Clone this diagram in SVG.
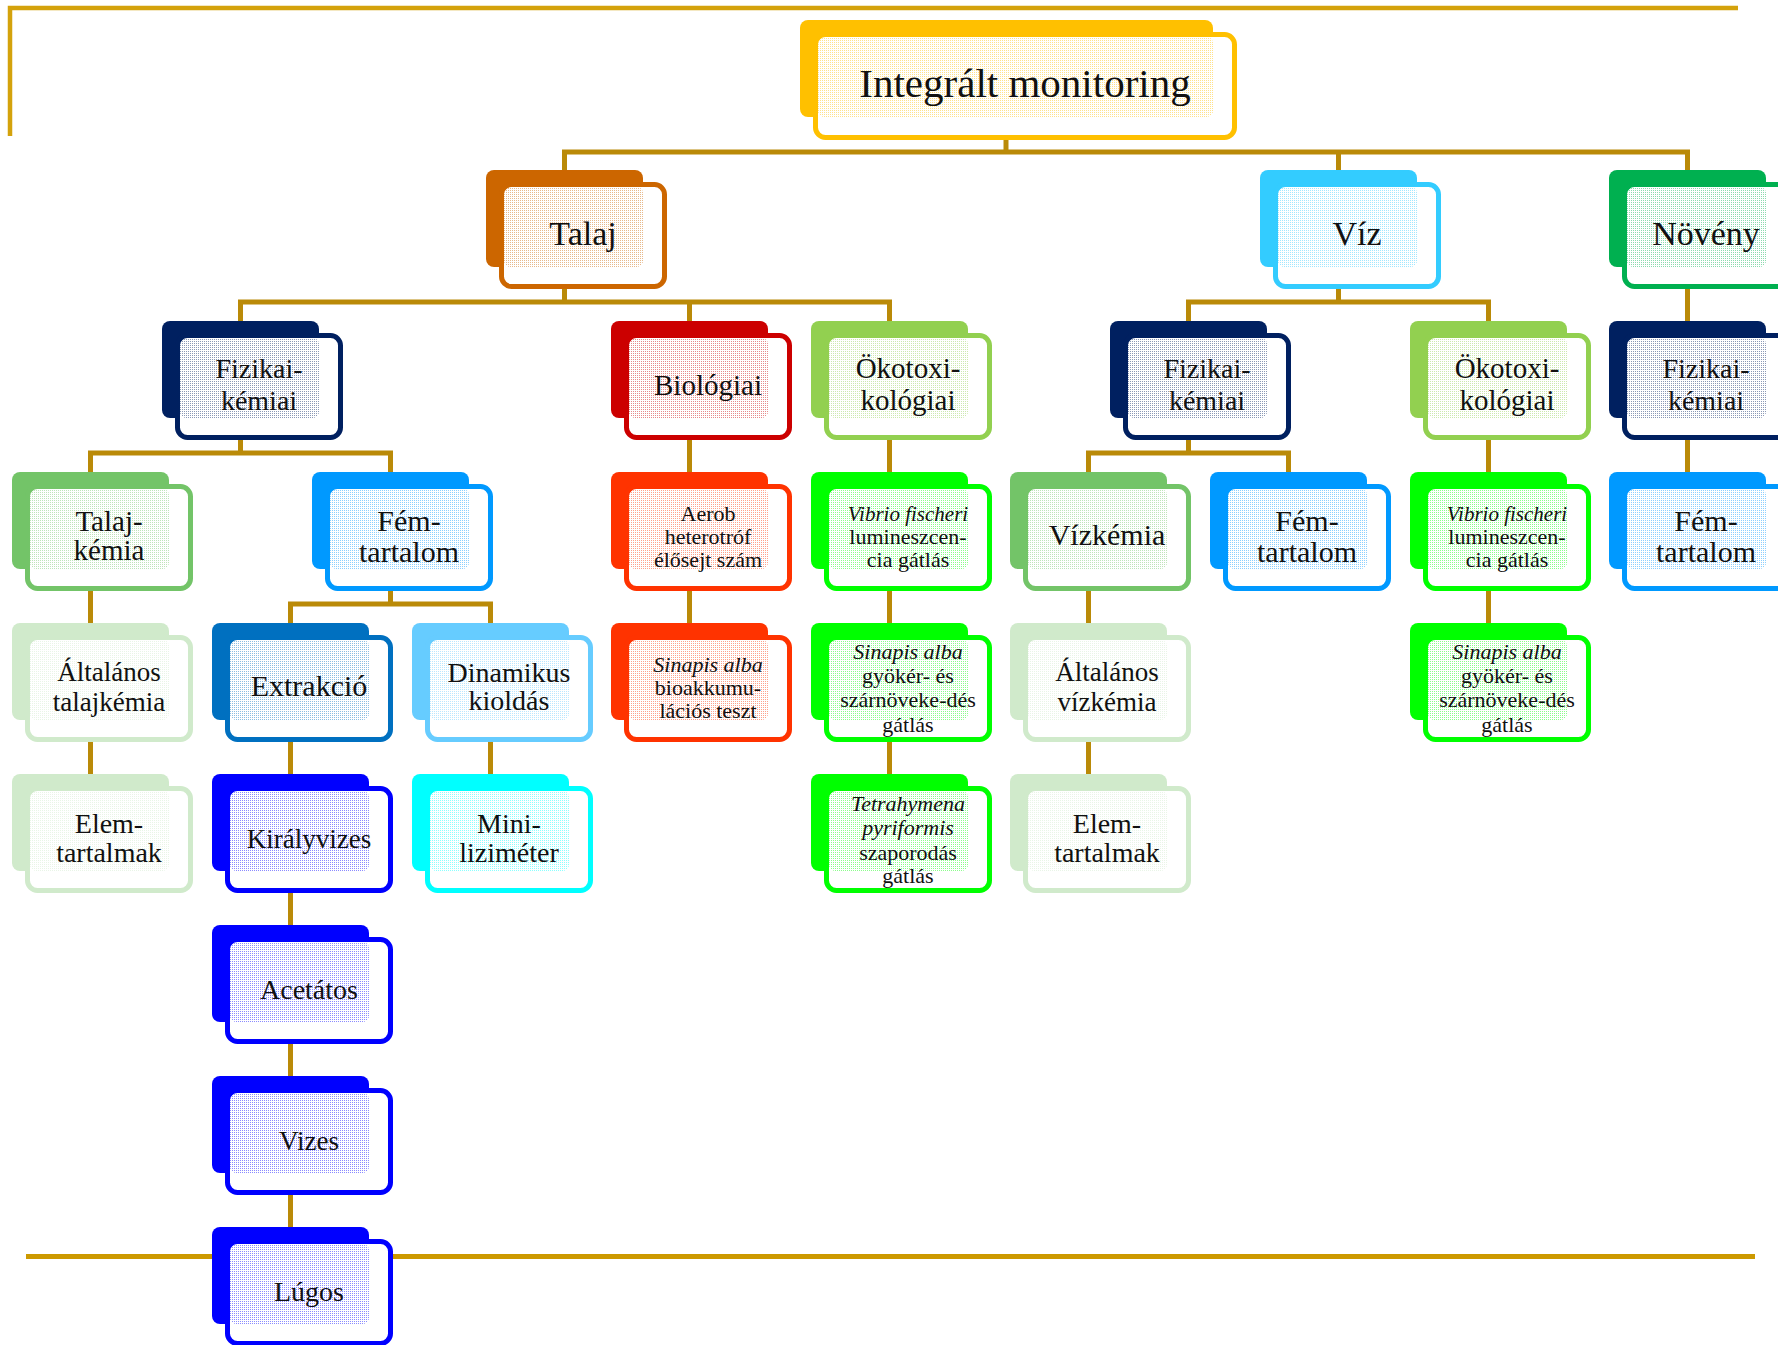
<svg xmlns="http://www.w3.org/2000/svg" width="1778" height="1345" viewBox="0 0 1778 1345">
<defs>
<pattern id="dp" width="2" height="2" patternUnits="userSpaceOnUse"><rect width="1" height="1" fill="#fff"/></pattern>
<mask id="dm" maskUnits="userSpaceOnUse" x="0" y="0" width="1778" height="1345" maskContentUnits="userSpaceOnUse"><rect x="-50" y="-50" width="1900" height="1450" fill="url(#dp)"/></mask>
</defs>
<style>
.bk{fill:var(--c)}
.fr{fill:#fff;stroke:var(--c);stroke-width:5}
.dt{fill:var(--c);opacity:0.45}
text{font-family:"Liberation Serif","Times New Roman",serif;fill:#111;text-anchor:middle}
.it{font-style:italic}
.c{fill:none;stroke:#BA8A08;stroke-width:5}
.fl{fill:none;stroke:#D4A20C;stroke-width:4.5}
.fl2{fill:none;stroke:#CC9900;stroke-width:5}
</style>
<rect width="1778" height="1345" fill="#fff"/>
<g id="frame">
<path class="fl" d="M10,136 V8 H1738"/>
<path class="fl2" d="M26,1256.5 H1755"/>
</g>
<g id="connectors">
<path class="c" d="M1006,120 V152"/>
<path class="c" d="M564.5,170 V152 H1687.5 V170"/>
<path class="c" d="M1338.5,152 V170"/>
<path class="c" d="M564.5,270 V302"/>
<path class="c" d="M240.5,321 V302 H889.5 V321"/>
<path class="c" d="M689.5,302 V321"/>
<path class="c" d="M1338.5,270 V302"/>
<path class="c" d="M1188.5,321 V302 H1488.5 V321"/>
<path class="c" d="M1687.5,270 V321"/>
<path class="c" d="M240.5,420 V453"/>
<path class="c" d="M90.5,472 V453 H390.5 V472"/>
<path class="c" d="M689.5,420 V472"/>
<path class="c" d="M889.5,420 V472"/>
<path class="c" d="M1188.5,420 V453"/>
<path class="c" d="M1088.5,472 V453 H1288.5 V472"/>
<path class="c" d="M1488.5,420 V472"/>
<path class="c" d="M1687.5,420 V472"/>
<path class="c" d="M90.5,570 V623"/>
<path class="c" d="M390.5,570 V604"/>
<path class="c" d="M290.5,623 V604 H490.5 V623"/>
<path class="c" d="M689.5,570 V623"/>
<path class="c" d="M889.5,570 V623"/>
<path class="c" d="M1088.5,570 V623"/>
<path class="c" d="M1488.5,570 V623"/>
<path class="c" d="M90.5,720 V774"/>
<path class="c" d="M290.5,720 V774"/>
<path class="c" d="M490.5,720 V774"/>
<path class="c" d="M889.5,720 V774"/>
<path class="c" d="M1088.5,720 V774"/>
<path class="c" d="M290.5,870 V925"/>
<path class="c" d="M290.5,1020 V1076"/>
<path class="c" d="M290.5,1170 V1227"/>
</g>

<g id="n-root" style="--c:#FFC000" transform="translate(800,20)">
<rect class="bk" width="413" height="97" rx="8"/>
<rect class="fr" x="15.5" y="14.5" width="419" height="103" rx="10"/>
<rect class="dt" x="18" y="17" width="395" height="80" rx="6" mask="url(#dm)"/>
<text x="225" y="77" font-size="41">Integrált monitoring</text>
</g>

<g id="n-talaj" style="--c:#CC6600" transform="translate(486,170)">
<rect class="bk" width="157" height="97" rx="8"/>
<rect class="fr" x="15.5" y="14.5" width="163" height="102" rx="10"/>
<rect class="dt" x="18" y="17" width="139" height="80" rx="6" mask="url(#dm)"/>
<text x="97" y="75" font-size="34">Talaj</text>
</g>
<g id="n-viz" style="--c:#33CCFF" transform="translate(1260,170)">
<rect class="bk" width="157" height="97" rx="8"/>
<rect class="fr" x="15.5" y="14.5" width="163" height="102" rx="10"/>
<rect class="dt" x="18" y="17" width="139" height="80" rx="6" mask="url(#dm)"/>
<text x="97" y="75" font-size="34">Víz</text>
</g>
<g id="n-noveny" style="--c:#00B050" transform="translate(1609,170)">
<rect class="bk" width="157" height="97" rx="8"/>
<rect class="fr" x="15.5" y="14.5" width="163" height="102" rx="10"/>
<rect class="dt" x="18" y="17" width="139" height="80" rx="6" mask="url(#dm)"/>
<text x="97" y="75" font-size="34">Növény</text>
</g>

<g id="n-talaj-fk" style="--c:#002060" transform="translate(162,321)">
<rect class="bk" width="157" height="97" rx="8"/>
<rect class="fr" x="15.5" y="14.5" width="163" height="102" rx="10"/>
<rect class="dt" x="18" y="17" width="139" height="80" rx="6" mask="url(#dm)"/>
<text x="97" y="57" font-size="28">Fizikai-</text>
<text x="97" y="89" font-size="28">kémiai</text>
</g>
<g id="n-biologiai" style="--c:#CC0000" transform="translate(611,321)">
<rect class="bk" width="157" height="97" rx="8"/>
<rect class="fr" x="15.5" y="14.5" width="163" height="102" rx="10"/>
<rect class="dt" x="18" y="17" width="139" height="80" rx="6" mask="url(#dm)"/>
<text x="97" y="74" font-size="29">Biológiai</text>
</g>
<g id="n-talaj-oko" style="--c:#92D050" transform="translate(811,321)">
<rect class="bk" width="157" height="97" rx="8"/>
<rect class="fr" x="15.5" y="14.5" width="163" height="102" rx="10"/>
<rect class="dt" x="18" y="17" width="139" height="80" rx="6" mask="url(#dm)"/>
<text x="97" y="57" font-size="29">Ökotoxi-</text>
<text x="97" y="89" font-size="29">kológiai</text>
</g>
<g id="n-viz-fk" style="--c:#002060" transform="translate(1110,321)">
<rect class="bk" width="157" height="97" rx="8"/>
<rect class="fr" x="15.5" y="14.5" width="163" height="102" rx="10"/>
<rect class="dt" x="18" y="17" width="139" height="80" rx="6" mask="url(#dm)"/>
<text x="97" y="57" font-size="28">Fizikai-</text>
<text x="97" y="89" font-size="28">kémiai</text>
</g>
<g id="n-viz-oko" style="--c:#92D050" transform="translate(1410,321)">
<rect class="bk" width="157" height="97" rx="8"/>
<rect class="fr" x="15.5" y="14.5" width="163" height="102" rx="10"/>
<rect class="dt" x="18" y="17" width="139" height="80" rx="6" mask="url(#dm)"/>
<text x="97" y="57" font-size="29">Ökotoxi-</text>
<text x="97" y="89" font-size="29">kológiai</text>
</g>
<g id="n-noveny-fk" style="--c:#002060" transform="translate(1609,321)">
<rect class="bk" width="157" height="97" rx="8"/>
<rect class="fr" x="15.5" y="14.5" width="163" height="102" rx="10"/>
<rect class="dt" x="18" y="17" width="139" height="80" rx="6" mask="url(#dm)"/>
<text x="97" y="57" font-size="28">Fizikai-</text>
<text x="97" y="89" font-size="28">kémiai</text>
</g>

<g id="n-talajkemia" style="--c:#73C468" transform="translate(12,472)">
<rect class="bk" width="157" height="97" rx="8"/>
<rect class="fr" x="15.5" y="14.5" width="163" height="102" rx="10"/>
<rect class="dt" x="18" y="17" width="139" height="80" rx="6" mask="url(#dm)"/>
<text x="97" y="59" font-size="29">Talaj-</text>
<text x="97" y="88" font-size="29">kémia</text>
</g>
<g id="n-talaj-fem" style="--c:#0099FF" transform="translate(312,472)">
<rect class="bk" width="157" height="97" rx="8"/>
<rect class="fr" x="15.5" y="14.5" width="163" height="102" rx="10"/>
<rect class="dt" x="18" y="17" width="139" height="80" rx="6" mask="url(#dm)"/>
<text x="97" y="59" font-size="30">Fém-</text>
<text x="97" y="90" font-size="30">tartalom</text>
</g>
<g id="n-aerob" style="--c:#FF3300" transform="translate(611,472)">
<rect class="bk" width="157" height="97" rx="8"/>
<rect class="fr" x="15.5" y="14.5" width="163" height="102" rx="10"/>
<rect class="dt" x="18" y="17" width="139" height="80" rx="6" mask="url(#dm)"/>
<text x="97" y="49" font-size="22">Aerob</text>
<text x="97" y="72" font-size="22">heterotróf</text>
<text x="97" y="95" font-size="22">élősejt szám</text>
</g>
<g id="n-talaj-vibrio" style="--c:#00FF00" transform="translate(811,472)">
<rect class="bk" width="157" height="97" rx="8"/>
<rect class="fr" x="15.5" y="14.5" width="163" height="102" rx="10"/>
<rect class="dt" x="18" y="17" width="139" height="80" rx="6" mask="url(#dm)"/>
<text x="97" y="49" font-size="21" class="it">Vibrio fischeri</text>
<text x="97" y="72" font-size="22">lumineszcen-</text>
<text x="97" y="95" font-size="22">cia gátlás</text>
</g>
<g id="n-vizkemia" style="--c:#73C468" transform="translate(1010,472)">
<rect class="bk" width="157" height="97" rx="8"/>
<rect class="fr" x="15.5" y="14.5" width="163" height="102" rx="10"/>
<rect class="dt" x="18" y="17" width="139" height="80" rx="6" mask="url(#dm)"/>
<text x="97" y="73" font-size="30">Vízkémia</text>
</g>
<g id="n-viz-fem" style="--c:#0099FF" transform="translate(1210,472)">
<rect class="bk" width="157" height="97" rx="8"/>
<rect class="fr" x="15.5" y="14.5" width="163" height="102" rx="10"/>
<rect class="dt" x="18" y="17" width="139" height="80" rx="6" mask="url(#dm)"/>
<text x="97" y="59" font-size="30">Fém-</text>
<text x="97" y="90" font-size="30">tartalom</text>
</g>
<g id="n-viz-vibrio" style="--c:#00FF00" transform="translate(1410,472)">
<rect class="bk" width="157" height="97" rx="8"/>
<rect class="fr" x="15.5" y="14.5" width="163" height="102" rx="10"/>
<rect class="dt" x="18" y="17" width="139" height="80" rx="6" mask="url(#dm)"/>
<text x="97" y="49" font-size="21" class="it">Vibrio fischeri</text>
<text x="97" y="72" font-size="22">lumineszcen-</text>
<text x="97" y="95" font-size="22">cia gátlás</text>
</g>
<g id="n-noveny-fem" style="--c:#0099FF" transform="translate(1609,472)">
<rect class="bk" width="157" height="97" rx="8"/>
<rect class="fr" x="15.5" y="14.5" width="163" height="102" rx="10"/>
<rect class="dt" x="18" y="17" width="139" height="80" rx="6" mask="url(#dm)"/>
<text x="97" y="59" font-size="30">Fém-</text>
<text x="97" y="90" font-size="30">tartalom</text>
</g>

<g id="n-alt-talajkemia" style="--c:#D0EACB" transform="translate(12,623)">
<rect class="bk" width="157" height="97" rx="8"/>
<rect class="fr" x="15.5" y="14.5" width="163" height="102" rx="10"/>
<rect class="dt" x="18" y="17" width="139" height="80" rx="6" mask="url(#dm)"/>
<text x="97" y="58" font-size="27">Általános</text>
<text x="97" y="88" font-size="27">talajkémia</text>
</g>
<g id="n-extrakcio" style="--c:#0070C0" transform="translate(212,623)">
<rect class="bk" width="157" height="97" rx="8"/>
<rect class="fr" x="15.5" y="14.5" width="163" height="102" rx="10"/>
<rect class="dt" x="18" y="17" width="139" height="80" rx="6" mask="url(#dm)"/>
<text x="97" y="73" font-size="30">Extrakció</text>
</g>
<g id="n-dinamikus" style="--c:#66CCFF" transform="translate(412,623)">
<rect class="bk" width="157" height="97" rx="8"/>
<rect class="fr" x="15.5" y="14.5" width="163" height="102" rx="10"/>
<rect class="dt" x="18" y="17" width="139" height="80" rx="6" mask="url(#dm)"/>
<text x="97" y="59" font-size="28">Dinamikus</text>
<text x="97" y="87" font-size="28">kioldás</text>
</g>
<g id="n-sinapis-bio" style="--c:#FF3300" transform="translate(611,623)">
<rect class="bk" width="157" height="97" rx="8"/>
<rect class="fr" x="15.5" y="14.5" width="163" height="102" rx="10"/>
<rect class="dt" x="18" y="17" width="139" height="80" rx="6" mask="url(#dm)"/>
<text x="97" y="49" font-size="22" class="it">Sinapis alba</text>
<text x="97" y="72" font-size="22">bioakkumu-</text>
<text x="97" y="95" font-size="22">lációs teszt</text>
</g>
<g id="n-talaj-sinapis" style="--c:#00FF00" transform="translate(811,623)">
<rect class="bk" width="157" height="97" rx="8"/>
<rect class="fr" x="15.5" y="14.5" width="163" height="102" rx="10"/>
<rect class="dt" x="18" y="17" width="139" height="80" rx="6" mask="url(#dm)"/>
<text x="97" y="36" font-size="22" class="it">Sinapis alba</text>
<text x="97" y="60" font-size="22">gyökér- és</text>
<text x="97" y="84" font-size="22">szárnöveke-dés</text>
<text x="97" y="109" font-size="22">gátlás</text>
</g>
<g id="n-alt-vizkemia" style="--c:#D0EACB" transform="translate(1010,623)">
<rect class="bk" width="157" height="97" rx="8"/>
<rect class="fr" x="15.5" y="14.5" width="163" height="102" rx="10"/>
<rect class="dt" x="18" y="17" width="139" height="80" rx="6" mask="url(#dm)"/>
<text x="97" y="58" font-size="27">Általános</text>
<text x="97" y="88" font-size="27">vízkémia</text>
</g>
<g id="n-viz-sinapis" style="--c:#00FF00" transform="translate(1410,623)">
<rect class="bk" width="157" height="97" rx="8"/>
<rect class="fr" x="15.5" y="14.5" width="163" height="102" rx="10"/>
<rect class="dt" x="18" y="17" width="139" height="80" rx="6" mask="url(#dm)"/>
<text x="97" y="36" font-size="22" class="it">Sinapis alba</text>
<text x="97" y="60" font-size="22">gyökér- és</text>
<text x="97" y="84" font-size="22">szárnöveke-dés</text>
<text x="97" y="109" font-size="22">gátlás</text>
</g>

<g id="n-talaj-elem" style="--c:#D0EACB" transform="translate(12,774)">
<rect class="bk" width="157" height="97" rx="8"/>
<rect class="fr" x="15.5" y="14.5" width="163" height="102" rx="10"/>
<rect class="dt" x="18" y="17" width="139" height="80" rx="6" mask="url(#dm)"/>
<text x="97" y="59" font-size="28">Elem-</text>
<text x="97" y="88" font-size="28">tartalmak</text>
</g>
<g id="n-kiralyvizes" style="--c:#0000FF" transform="translate(212,774)">
<rect class="bk" width="157" height="97" rx="8"/>
<rect class="fr" x="15.5" y="14.5" width="163" height="102" rx="10"/>
<rect class="dt" x="18" y="17" width="139" height="80" rx="6" mask="url(#dm)"/>
<text x="97" y="74" font-size="27">Királyvizes</text>
</g>
<g id="n-minilizimeter" style="--c:#00FFFF" transform="translate(412,774)">
<rect class="bk" width="157" height="97" rx="8"/>
<rect class="fr" x="15.5" y="14.5" width="163" height="102" rx="10"/>
<rect class="dt" x="18" y="17" width="139" height="80" rx="6" mask="url(#dm)"/>
<text x="97" y="59" font-size="28">Mini-</text>
<text x="97" y="88" font-size="28">liziméter</text>
</g>
<g id="n-tetrahymena" style="--c:#00FF00" transform="translate(811,774)">
<rect class="bk" width="157" height="97" rx="8"/>
<rect class="fr" x="15.5" y="14.5" width="163" height="102" rx="10"/>
<rect class="dt" x="18" y="17" width="139" height="80" rx="6" mask="url(#dm)"/>
<text x="97" y="37" font-size="22" class="it">Tetrahymena</text>
<text x="97" y="61" font-size="22" class="it">pyriformis</text>
<text x="97" y="86" font-size="22">szaporodás</text>
<text x="97" y="109" font-size="22">gátlás</text>
</g>
<g id="n-viz-elem" style="--c:#D0EACB" transform="translate(1010,774)">
<rect class="bk" width="157" height="97" rx="8"/>
<rect class="fr" x="15.5" y="14.5" width="163" height="102" rx="10"/>
<rect class="dt" x="18" y="17" width="139" height="80" rx="6" mask="url(#dm)"/>
<text x="97" y="59" font-size="28">Elem-</text>
<text x="97" y="88" font-size="28">tartalmak</text>
</g>

<g id="n-acetatos" style="--c:#0000FF" transform="translate(212,925)">
<rect class="bk" width="157" height="97" rx="8"/>
<rect class="fr" x="15.5" y="14.5" width="163" height="102" rx="10"/>
<rect class="dt" x="18" y="17" width="139" height="80" rx="6" mask="url(#dm)"/>
<text x="97" y="74" font-size="28">Acetátos</text>
</g>
<g id="n-vizes" style="--c:#0000FF" transform="translate(212,1076)">
<rect class="bk" width="157" height="97" rx="8"/>
<rect class="fr" x="15.5" y="14.5" width="163" height="102" rx="10"/>
<rect class="dt" x="18" y="17" width="139" height="80" rx="6" mask="url(#dm)"/>
<text x="97" y="74" font-size="27">Vizes</text>
</g>
<g id="n-lugos" style="--c:#0000FF" transform="translate(212,1227)">
<rect class="bk" width="157" height="97" rx="8"/>
<rect class="fr" x="15.5" y="14.5" width="163" height="102" rx="10"/>
<rect class="dt" x="18" y="17" width="139" height="80" rx="6" mask="url(#dm)"/>
<text x="97" y="74" font-size="28">Lúgos</text>
</g>
</svg>
